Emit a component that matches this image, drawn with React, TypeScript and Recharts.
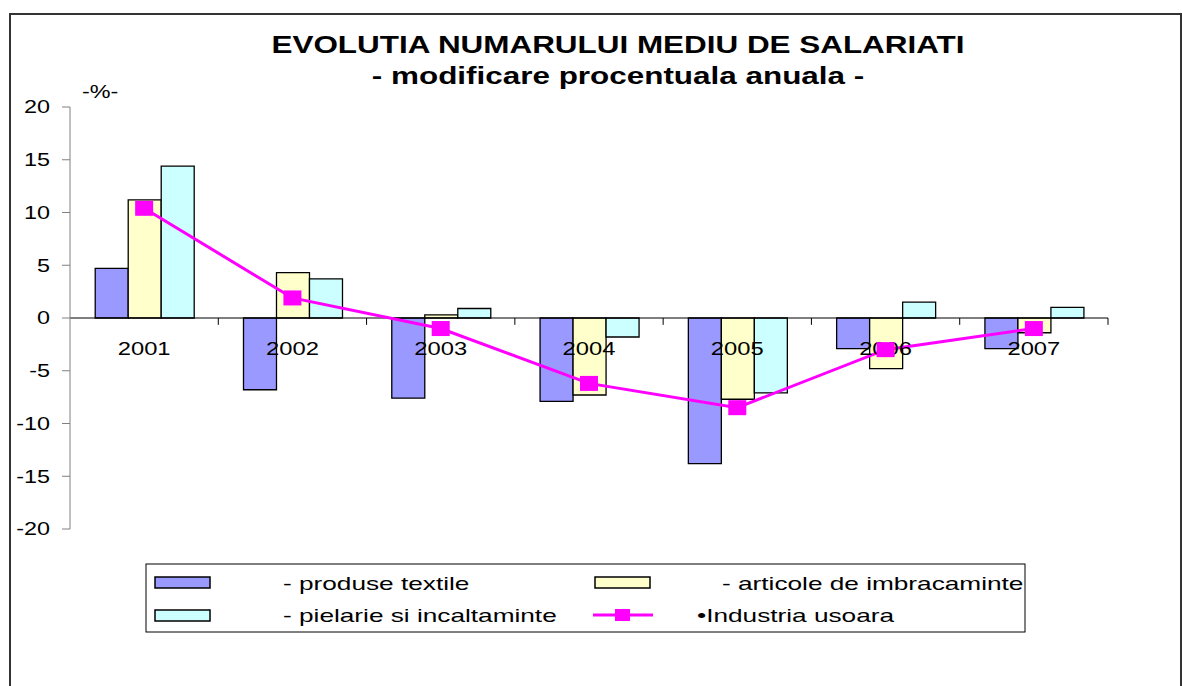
import {
  Bar,
  ComposedChart,
  Line,
  ReferenceDot,
  ReferenceLine,
  XAxis,
  YAxis,
} from "recharts";

const years = ["2001", "2002", "2003", "2004", "2005", "2006", "2007"];
const textile = [4.7, -6.8, -7.6, -7.9, -13.8, -2.9, -2.9];
const clothing = [11.2, 4.3, 0.3, -7.3, -7.7, -4.8, -1.4];
const leather = [14.4, 3.7, 0.9, -1.8, -7.1, 1.5, 1.0];
const lightIndustry = [10.4, 1.9, -1.0, -6.2, -8.5, -3.0, -1.0];
const yTicks = [-20, -15, -10, -5, 0, 5, 10, 15, 20];

const seriesNames = {
  textile: "- produse textile",
  clothing: "- articole de imbracaminte",
  leather: "- pielarie si incaltaminte",
  line: "•Industria usoara",
};

const COLORS = {
  textile: "#9999FF",
  clothing: "#FFFFCC",
  leather: "#CCFFFF",
  line: "#FF00FF",
};

const FONT = "'Liberation Sans', Arial, sans-serif";

const data = years.map((y, i) => ({
  year: y,
  textile: textile[i],
  clothing: clothing[i],
  leather: leather[i],
  line: lightIndustry[i],
}));

// excel picture is stretched sideways, so text gets a horizontal scale
function Stretched({ x, y, sx, anchor = "start", size, bold = false, children }: any) {
  return (
    <text
      transform={`translate(${x} ${y}) scale(${sx} 1)`}
      x={0}
      y={0}
      textAnchor={anchor}
      fontSize={size}
      fontWeight={bold ? 700 : 400}
      fontFamily={FONT}
      fill="#000"
    >
      {children}
    </text>
  );
}

function YTick({ x, y, payload }: any) {
  return (
    <text
      transform={`translate(${x} ${y}) scale(1.3 1)`}
      x={0}
      y={0}
      dy="0.355em"
      textAnchor="end"
      fontSize={18}
      fontFamily={FONT}
      fill="#000"
    >
      {payload.value}
    </text>
  );
}

function SquareDot({ cx, cy }: any) {
  if (cx == null || cy == null) return null;
  return <rect x={cx - 9} y={cy - 7.5} width={18} height={15} fill={COLORS.line} />;
}

function Swatch({ x, y, color }: any) {
  return <rect x={x} y={y} width={55} height={11} fill={color} stroke="#000" strokeWidth={1.5} />;
}

function ChartLegend() {
  return (
    <g>
      <rect x={146} y={564} width={879} height={68} fill="#fff" stroke="#000" strokeWidth={1} />
      <Swatch x={155} y={577} color={COLORS.textile} />
      <Stretched x={283} y={590} sx={1.38} size={19}>{seriesNames.textile}</Stretched>
      <Swatch x={595} y={577} color={COLORS.clothing} />
      <Stretched x={722} y={590} sx={1.38} size={19}>{seriesNames.clothing}</Stretched>
      <Swatch x={155} y={610} color={COLORS.leather} />
      <Stretched x={283} y={622} sx={1.38} size={19}>{seriesNames.leather}</Stretched>
      <line x1={593} x2={653} y1={615} y2={615} stroke={COLORS.line} strokeWidth={3} />
      <rect x={615} y={609} width={15} height={12} fill={COLORS.line} />
      <Stretched x={697} y={622} sx={1.38} size={19}>{seriesNames.line}</Stretched>
    </g>
  );
}

export default function App() {
  return (
    <div
      style={{
        position: "absolute",
        left: 0,
        top: 0,
        width: 1182,
        height: 686,
        overflow: "hidden",
        background: "#fff",
      }}
    >
      <div
        style={{
          position: "absolute",
          left: 9,
          top: 13,
          width: 1169,
          height: 700,
          borderLeft: "2px solid #333",
          borderTop: "2px solid #333",
          borderRight: "2px solid #333",
        }}
      />
      <div style={{ position: "absolute", left: 0, top: 0 }}>
        <ComposedChart
          width={1182}
          height={686}
          data={data}
          margin={{ top: 107, right: 74, bottom: 157, left: 0 }}
          barCategoryGap="17%"
          barGap={0}
        >
          <XAxis dataKey="year" hide />
          <YAxis
            domain={[-20, 20]}
            ticks={yTicks}
            width={70}
            interval={0}
            tickSize={8}
            tickMargin={12}
            stroke="#808080"
            tick={<YTick />}
          />
          <Bar dataKey="textile" name={seriesNames.textile} fill={COLORS.textile} stroke="#000" strokeWidth={1.3} isAnimationActive={false} />
          <Bar dataKey="clothing" name={seriesNames.clothing} fill={COLORS.clothing} stroke="#000" strokeWidth={1.3} isAnimationActive={false} />
          <Bar dataKey="leather" name={seriesNames.leather} fill={COLORS.leather} stroke="#000" strokeWidth={1.3} isAnimationActive={false} />
          <ReferenceLine y={0} stroke="#000" strokeWidth={1.2} />
          {years.map((yr) => (
            <ReferenceLine
              key={`t${yr}`}
              segment={[
                { x: yr, y: 0 },
                { x: yr, y: -0.65 },
              ]}
              position="end"
              stroke="#000"
              strokeWidth={1}
            />
          ))}
          {years.map((yr) => (
            <ReferenceDot
              key={`l${yr}`}
              x={yr}
              y={0}
              r={0}
              fill="none"
              stroke="none"
              label={(p: any) => {
                const vb = p.viewBox || {};
                return (
                  <Stretched x={vb.x + (vb.width || 0) / 2} y={vb.y + 37} sx={1.25} anchor="middle" size={19}>
                    {yr}
                  </Stretched>
                );
              }}
            />
          ))}
          <Line
            type="linear"
            dataKey="line"
            name={seriesNames.line}
            stroke={COLORS.line}
            strokeWidth={3}
            dot={<SquareDot />}
            activeDot={false}
            isAnimationActive={false}
          />
        </ComposedChart>
      </div>
      <svg
        width={1182}
        height={686}
        style={{ position: "absolute", left: 0, top: 0, pointerEvents: "none" }}
      >
        <Stretched x={618} y={53} sx={1.31} anchor="middle" size={24} bold>
          EVOLUTIA NUMARULUI MEDIU DE SALARIATI
        </Stretched>
        <Stretched x={618} y={84} sx={1.31} anchor="middle" size={24} bold>
          - modificare procentuala anuala -
        </Stretched>
        <Stretched x={82} y={98} sx={1.3} size={18}>
          -%-
        </Stretched>
        <ChartLegend />
      </svg>
    </div>
  );
}
